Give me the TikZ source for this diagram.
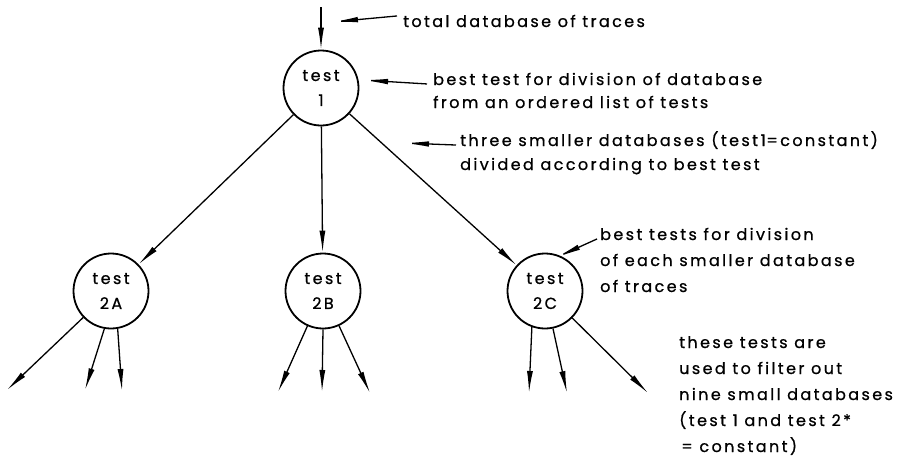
\documentclass[tikz,border=0pt]{standalone}
\usepackage{fontspec}
\setmainfont[LetterSpace=15,FakeBold=0.8]{Poppins}
\usetikzlibrary{arrows.meta}
\begin{document}
\begin{tikzpicture}[x=1pt,y=-1pt,
  tip/.tip={Latex[length=22pt,width=6pt]},
  edge/.style={line width=1.3pt,-tip},
  pointer/.style={line width=1.3pt,-{Latex[length=26pt,width=5.5pt]}},
  testnode/.style={circle,draw,line width=1.8pt,minimum size=75pt,inner sep=0pt,
    align=center,font=\fontsize{16}{25}\selectfont},
  note/.style={anchor=base west,inner sep=0pt,font=\fontsize{16}{19}\selectfont}]
\useasboundingbox (0,0) rectangle (909,464);

% decision tree
\node[testnode] (t1) at (321,88) {test\\1};
\node[testnode] (t2a) at (111,291) {test\\2A};
\node[testnode] (t2b) at (323,291) {test\\2B};
\node[testnode] (t2c) at (545,291) {test\\2C};

\coordinate (in) at (321,7);
\draw[edge] (in) -- (t1.north);

\draw[edge] (t1) -- (t2a);
\draw[edge] (t1) -- (t2b);
\draw[edge] (t1) -- (t2c);

% outputs: nine small databases
\coordinate (a1) at (7,390);   \coordinate (a2) at (85,390);  \coordinate (a3) at (122,391);
\coordinate (b1) at (278,392); \coordinate (b2) at (322,392); \coordinate (b3) at (370,393);
\coordinate (c1) at (529,393); \coordinate (c2) at (567,393); \coordinate (c3) at (648,393);
\draw[edge] (t2a) -- (a1);
\draw[edge] (t2a.-100) -- (a2);
\draw[edge] (t2a.-80) -- (a3);
\draw[edge] (t2b) -- (b1);
\draw[edge] (t2b.-90) -- (b2);
\draw[edge] (t2b) -- (b3);
\draw[edge] (t2c.-110) -- (c1);
\draw[edge] (t2c.-78) -- (c2);
\draw[edge] (t2c) -- (c3);

% annotations
\node[note] (n1) at (403,27) {total database of traces};
\coordinate (p1) at (332,22);
\draw[pointer] (n1.west) ++(-6,-5) -- (p1);

\node[note] (n2) at (433,85) {best test for division of database};
\node[note] (n2b) at (433,108) {from an ordered list of tests};
\coordinate (p2) at (362,80);
\draw[pointer] ([yshift=-5pt]n2.west) ++(-6,0) -- (p2);

\node[note] (n3) at (460,146) {three smaller databases (test\,1\kern0.5pt=constant)};
\node[note] (n3b) at (460,170) {divided according to best test};
\coordinate (p3) at (403,143);
\draw[pointer] ([yshift=-5pt]n3.west) ++(-4,0) -- (p3);

\node[note] (n4) at (600,240) {best tests for division};
\node[note] (n4b) at (600,266) {of each smaller database};
\node[note] (n4c) at (600,292) {of traces};
\coordinate (p4) at (555,258);
\draw[pointer] ([yshift=-5pt]n4.west) ++(-3,0) -- (p4);

\node[note] (n5) at (679,348) {these tests are};
\node[note] (n5b) at (679,374) {used to filter out};
\node[note] (n5c) at (679,400) {nine small databases};
\node[note] (n5d) at (679,426) {(test 1 and test 2*};
\node[note] (n5e) at (681,452) {= constant)};
\end{tikzpicture}
\end{document}
